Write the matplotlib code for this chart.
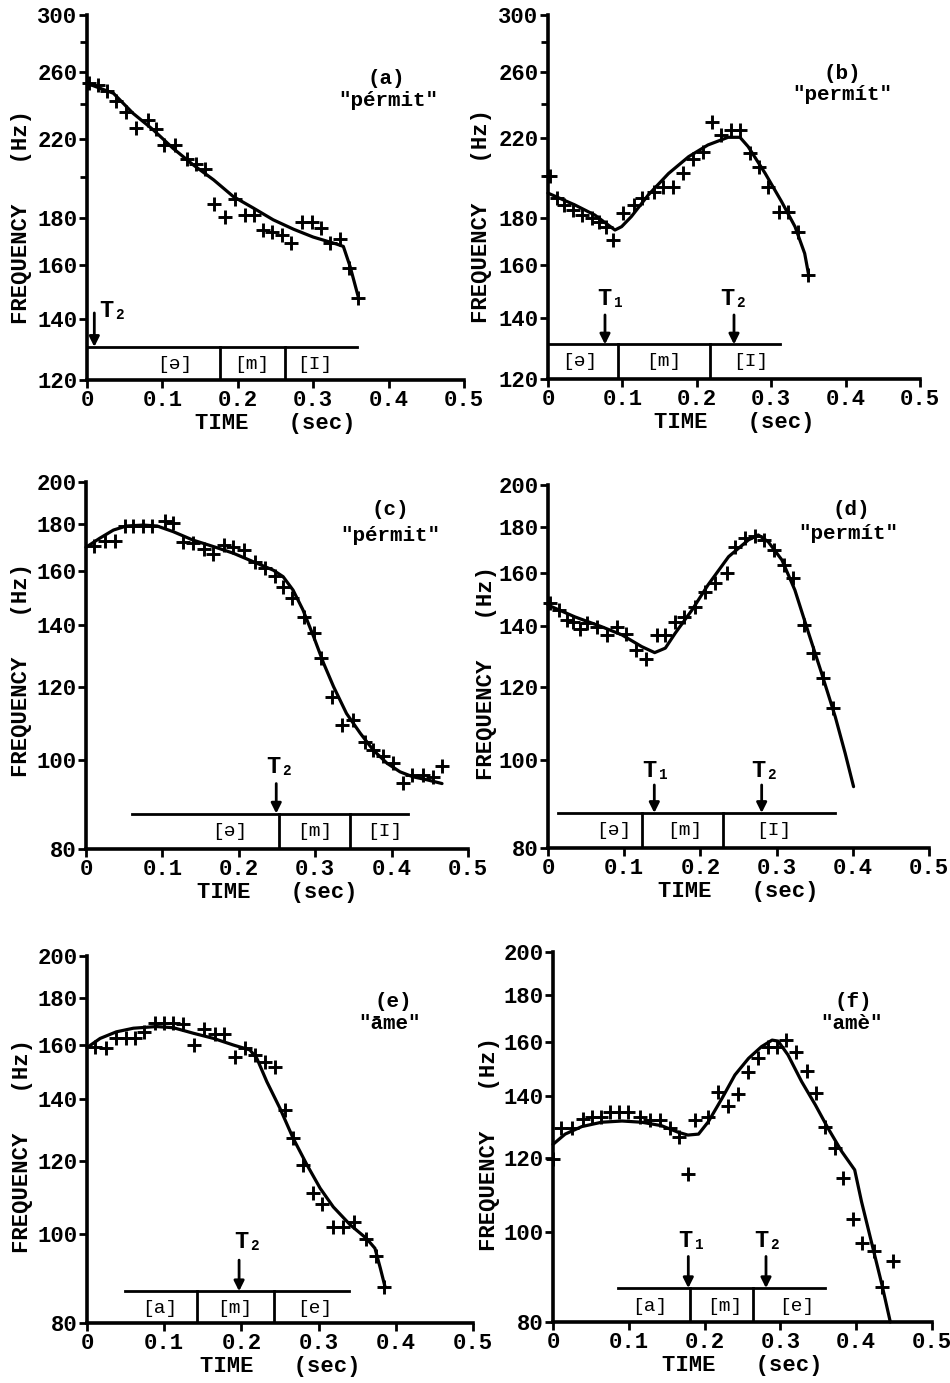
import matplotlib
matplotlib.use("Agg")
import matplotlib.pyplot as plt
from matplotlib.ticker import FixedLocator, NullFormatter, NullLocator, FixedFormatter

plt.rcParams['font.family'] = ['Liberation Mono', 'DejaVu Sans Mono']
plt.rcParams['font.weight'] = 'bold'

# ---------------- data ----------------
# (a) "pérmit"
a_pts_t = [0.003, 0.015, 0.027, 0.039, 0.052, 0.065, 0.081, 0.092, 0.102, 0.117, 0.132, 0.145, 0.157, 0.169, 0.183,
           0.196, 0.210, 0.221, 0.234, 0.246, 0.258, 0.271, 0.285, 0.298, 0.310, 0.322, 0.336, 0.347, 0.360]
a_pts_f = [252.7, 251.7, 248.2, 241.5, 234.9, 226.1, 230.6, 225.2, 216.5, 216.5, 208.8, 206.4, 203.6, 186.6, 180.5,
           188.9, 181.6, 181.6, 174.9, 173.8, 172.7, 169.4, 178.6, 178.6, 175.6, 169.4, 170.9, 158.9, 147.6]
a_fit_t = [0, 0.035, 0.061, 0.088, 0.114, 0.141, 0.168, 0.194, 0.221, 0.247, 0.274, 0.300, 0.331, 0.340, 0.349, 0.360]
a_fit_f = [252.7, 246.5, 234.4, 224.8, 214.7, 205.9, 198.3, 190.2, 184.7, 179.4, 175.2, 171.8, 168.8, 167.8, 159.5, 147.6]

# (b) "permít"
b_pts_t = [0.003, 0.012, 0.022, 0.034, 0.046, 0.059, 0.069, 0.078, 0.088, 0.101, 0.115, 0.126, 0.142, 0.155, 0.168,
           0.182, 0.195, 0.208, 0.220, 0.233, 0.246, 0.258, 0.272, 0.283, 0.296, 0.310, 0.323, 0.336, 0.350]
b_pts_f = [199.9, 189.1, 186.0, 183.6, 181.3, 179.8, 178.3, 176.1, 170.3, 182.1, 186.0, 189.1, 192.3, 194.7, 194.7,
           201.3, 208.6, 212.6, 229.3, 221.8, 224.6, 224.6, 211.8, 204.8, 194.7, 182.9, 182.9, 173.9, 156.0]
b_fit_t = [0, 0.036, 0.063, 0.090, 0.099, 0.112, 0.135, 0.162, 0.189, 0.215, 0.242, 0.258, 0.269, 0.292, 0.314,
           0.332, 0.345, 0.350]
b_fit_f = [191.6, 186.0, 181.3, 174.6, 176.1, 180.6, 190.8, 201.3, 210.0, 216.3, 220.5, 220.5, 215.4, 201.3, 187.5,
           176.1, 164.6, 156.5]

# (c) "pérmit"
c_pts_t = [0.0105, 0.025, 0.038, 0.051, 0.062, 0.074, 0.086, 0.103, 0.114, 0.127, 0.140, 0.154, 0.166, 0.180, 0.193,
           0.207, 0.221, 0.234, 0.247, 0.258, 0.270, 0.285, 0.298, 0.308, 0.322, 0.335, 0.350, 0.365, 0.376, 0.389,
           0.402, 0.415, 0.427, 0.441, 0.454, 0.466]
c_pts_f = [170.4, 172.7, 172.7, 179.2, 179.2, 179.2, 179.2, 181.6, 180.4, 172.3, 171.8, 169.1, 167.1, 170.9, 169.9,
           168.8, 163.7, 161.2, 158.2, 153.8, 149.6, 142.9, 137.1, 128.8, 117.0, 109.0, 110.4, 104.6, 102.4, 100.9,
           99.1, 94.4, 96.2, 96.2, 95.8, 98.4]
c_fit_t = [0, 0.018, 0.036, 0.053, 0.075, 0.093, 0.114, 0.140, 0.167, 0.193, 0.219, 0.245, 0.258, 0.271, 0.284,
           0.298, 0.311, 0.324, 0.341, 0.359, 0.376, 0.394, 0.411, 0.428, 0.446, 0.466]
c_fit_f = [169.9, 173.8, 177.4, 179.2, 179.6, 179.2, 176.7, 173.0, 170.2, 167.4, 163.9, 160.5, 157.9, 152.7, 145.3,
           135.9, 127.2, 120.0, 112.2, 106.8, 102.4, 99.1, 97.0, 95.8, 95.1, 94.2]

# (d) "permít"
d_pts_t = [0.003, 0.014, 0.025, 0.033, 0.042, 0.051, 0.064, 0.078, 0.090, 0.103, 0.116, 0.128, 0.143, 0.153, 0.167,
           0.179, 0.193, 0.206, 0.219, 0.235, 0.245, 0.259, 0.271, 0.284, 0.296, 0.310, 0.322, 0.336, 0.348, 0.361,
           0.374]
d_pts_f = [148.3, 145.9, 142.3, 141.6, 139.0, 141.1, 139.9, 137.0, 139.9, 137.3, 131.9, 128.8, 137.0, 137.0, 141.6,
           143.5, 146.9, 152.8, 156.0, 160.0, 170.9, 174.8, 175.8, 174.1, 169.7, 163.4, 158.0, 140.4, 130.8, 122.8,
           113.8]
d_fit_t = [0, 0.035, 0.070, 0.097, 0.123, 0.140, 0.154, 0.167, 0.189, 0.210, 0.237, 0.263, 0.276, 0.289, 0.307,
           0.324, 0.342, 0.359, 0.377, 0.390, 0.401]
d_fit_f = [147.7, 143.4, 139.9, 137.0, 133.0, 131.0, 132.5, 137.6, 145.9, 155.4, 166.9, 174.1, 176.3, 173.3, 165.5,
           153.4, 137.6, 124.4, 111.4, 101.6, 93.4]

# (e) "āme"
e_pts_t = [0.010, 0.025, 0.038, 0.051, 0.062, 0.074, 0.088, 0.100, 0.112, 0.124, 0.138, 0.151, 0.166, 0.177, 0.192,
           0.205, 0.218, 0.231, 0.244, 0.256, 0.267, 0.280, 0.293, 0.305, 0.319, 0.332, 0.346, 0.361, 0.374, 0.385]
e_pts_f = [159.5, 158.8, 162.8, 162.8, 162.8, 165.5, 169.1, 169.1, 169.1, 168.6, 160.1, 166.7, 164.5, 164.5, 155.5,
           158.8, 156.2, 153.6, 151.7, 136.2, 126.9, 118.7, 110.6, 107.8, 101.7, 101.7, 103.0, 98.6, 94.6, 87.6]
e_fit_t = [0, 0.017, 0.038, 0.060, 0.090, 0.112, 0.138, 0.164, 0.190, 0.211, 0.220, 0.233, 0.250, 0.267, 0.285,
           0.302, 0.319, 0.341, 0.362, 0.373, 0.380, 0.386]
e_fit_f = [159.1, 162.8, 165.5, 167.0, 167.7, 167.2, 164.9, 162.8, 160.1, 158.2, 154.9, 146.1, 136.7, 126.9, 118.7,
           112.0, 106.9, 102.2, 98.8, 96.4, 91.7, 87.6]

# (f) "amè"
f_pts_t = [0.000, 0.011, 0.025, 0.039, 0.051, 0.063, 0.075, 0.087, 0.099, 0.115, 0.128, 0.141, 0.154, 0.166, 0.178,
           0.187, 0.204, 0.218, 0.231, 0.244, 0.257, 0.270, 0.283, 0.295, 0.308, 0.321, 0.335, 0.347, 0.359, 0.372,
           0.383, 0.396, 0.408, 0.423, 0.434, 0.448]
f_pts_f = [119.8, 129.4, 129.4, 132.3, 133.0, 133.0, 134.5, 134.5, 134.5, 132.9, 132.0, 132.0, 129.2, 126.6, 115.3,
           132.0, 133.0, 141.3, 136.7, 140.6, 148.7, 153.7, 158.2, 158.2, 160.8, 156.0, 149.0, 141.0, 129.8, 123.0,
           114.2, 103.3, 97.2, 95.4, 87.3, 93.1]
f_fit_t = [0, 0.016, 0.038, 0.064, 0.091, 0.117, 0.143, 0.165, 0.178, 0.192, 0.205, 0.223, 0.240, 0.258, 0.275,
           0.289, 0.297, 0.310, 0.328, 0.346, 0.363, 0.381, 0.398, 0.407, 0.420, 0.434, 0.445]
f_fit_f = [124.2, 127.4, 129.8, 131.2, 131.6, 131.2, 130.1, 128.0, 127.1, 127.4, 131.4, 139.2, 147.5, 153.7, 158.2,
           160.8, 160.4, 155.0, 145.1, 137.0, 129.2, 122.0, 116.6, 107.8, 97.6, 87.7, 80.0]

# segment bars: level, start, end, boundaries, labels, label positions, label level
a_bar = [130.4, 0.0, 0.358]; a_bounds = [0.176, 0.263]; a_segs = ['[ə]', '[m]', '[I]']; a_seg_t = [0.117, 0.218, 0.302]; a_seg_f = 124.7
b_bar = [130.9, 0.0, 0.312]; b_bounds = [0.0945, 0.218]; b_segs = ['[ə]', '[m]', '[I]']; b_seg_t = [0.043, 0.155, 0.272]; b_seg_f = 125.3
c_bar = [87.4, 0.060, 0.422]; c_bounds = [0.252, 0.345]; c_segs = ['[ə]', '[m]', '[I]']; c_seg_t = [0.188, 0.300, 0.391]; c_seg_f = 83.5
d_bar = [87.4, 0.0135, 0.377]; d_bounds = [0.123, 0.230]; d_segs = ['[ə]', '[m]', '[I]']; d_seg_t = [0.086, 0.180, 0.296]; d_seg_f = 83.7
e_bar = [86.6, 0.049, 0.340]; e_bounds = [0.142, 0.242]; e_segs = ['[a]', '[m]', '[e]']; e_seg_t = [0.0946, 0.192, 0.295]; e_seg_f = 83.0
f_bar = [87.0, 0.086, 0.359]; f_bounds = [0.181, 0.264]; f_segs = ['[a]', '[m]', '[e]']; f_seg_t = [0.128, 0.227, 0.321]; f_seg_f = 83.1

# T arrows: times, arrow top level, labels, label times, label level
a_arrow_t = [0.0097]; a_arrow_top = 142.0; a_tlab = ['T₂']; a_tlab_t = [0.035]; a_tlab_f = 138.8
b_arrow_t = [0.0766, 0.250]; b_arrow_top = 141.0; b_tlab = ['T₁', 'T₂']; b_tlab_t = [0.0856, 0.251]; b_tlab_f = 142.8
c_arrow_t = [0.249]; c_arrow_top = 94.2; c_tlab = ['T₂']; c_tlab_t = [0.255]; c_tlab_f = 95.5
d_arrow_t = [0.1395, 0.2804]; d_arrow_top = 93.8; d_tlab = ['T₁', 'T₂']; d_tlab_t = [0.1426, 0.285]; d_tlab_f = 94.6
e_arrow_t = [0.197]; e_arrow_top = 93.6; e_tlab = ['T₂']; e_tlab_t = [0.209]; e_tlab_f = 95.2
f_arrow_t = [0.1785, 0.281]; f_arrow_top = 94.1; f_tlab = ['T₁', 'T₂']; f_tlab_t = [0.184, 0.284]; f_tlab_f = 95.2

# panel titles
titles = ['(a)', '(b)', '(c)', '(d)', '(e)', '(f)']
words = ['"pérmit"', '"permít"', '"pérmit"', '"permít"', '"āme"', '"amè"']
title_pos = [(0.397, 256), (0.395, 259), (0.398, 186.5), (0.3985, 187.8), (0.397, 178.4), (0.396, 176.8)]
word_pos = [(0.40, 242.3), (0.395, 245.3), (0.398, 175.2), (0.394, 177.0), (0.392, 169.1), (0.394, 167.6)]

x_ticks = [0, 0.1, 0.2, 0.3, 0.4, 0.5]
x_ticklabels = ['0', '0.1', '0.2', '0.3', '0.4', '0.5']
y_ticks_hi = [120, 140, 160, 180, 220, 260, 300]
y_minor_hi = [200, 240, 280]
y_ticks_lo = [80, 100, 120, 140, 160, 180, 200]

# ---------------- layout ----------------
W, H = 950, 1383
rects_px = [  # left, right, top, bottom in pixels
    (87, 464, 15, 380),
    (548, 920, 15, 379),
    (86, 468, 482, 849),
    (548, 929, 485, 848),
    (87, 473, 956, 1323),
    (553, 932, 952, 1322),
]
ylabel_x = [-0.146, -0.151, -0.141, -0.134, -0.14, -0.14]
ylabel_y = [0.447, 0.447, 0.488, 0.482, 0.482, 0.48]

panels = [
    (a_pts_t, a_pts_f, a_fit_t, a_fit_f, a_bar, a_bounds, a_segs, a_seg_t, a_seg_f, a_arrow_t, a_arrow_top, a_tlab, a_tlab_t, a_tlab_f),
    (b_pts_t, b_pts_f, b_fit_t, b_fit_f, b_bar, b_bounds, b_segs, b_seg_t, b_seg_f, b_arrow_t, b_arrow_top, b_tlab, b_tlab_t, b_tlab_f),
    (c_pts_t, c_pts_f, c_fit_t, c_fit_f, c_bar, c_bounds, c_segs, c_seg_t, c_seg_f, c_arrow_t, c_arrow_top, c_tlab, c_tlab_t, c_tlab_f),
    (d_pts_t, d_pts_f, d_fit_t, d_fit_f, d_bar, d_bounds, d_segs, d_seg_t, d_seg_f, d_arrow_t, d_arrow_top, d_tlab, d_tlab_t, d_tlab_f),
    (e_pts_t, e_pts_f, e_fit_t, e_fit_f, e_bar, e_bounds, e_segs, e_seg_t, e_seg_f, e_arrow_t, e_arrow_top, e_tlab, e_tlab_t, e_tlab_f),
    (f_pts_t, f_pts_f, f_fit_t, f_fit_f, f_bar, f_bounds, f_segs, f_seg_t, f_seg_f, f_arrow_t, f_arrow_top, f_tlab, f_tlab_t, f_tlab_f),
]

fig = plt.figure(figsize=(W / 100, H / 100), dpi=100)

for i, p in enumerate(panels):
    (pts_t, pts_f, fit_t, fit_f, bar, bounds, segs, seg_t, seg_f,
     arrow_t, arrow_top, tlab, tlab_t, tlab_f) = p
    l, r, t, b = rects_px[i]
    ax = fig.add_axes([l / W, 1 - b / H, (r - l) / W, (b - t) / H])
    ax.set_yscale('log')
    hi = i < 2
    ax.set_xlim(0, 0.5)
    ax.set_ylim((120, 300) if hi else (80, 200))

    ax.plot(fit_t, fit_f, color='black', lw=2.3, solid_capstyle='round', solid_joinstyle='round', clip_on=False)
    ax.plot(pts_t, pts_f, linestyle='none', marker='+', markersize=10, markeredgewidth=2.1, color='black', clip_on=False)

    # segment bar
    lvl, x0, x1 = bar
    ymin = ax.get_ylim()[0]
    ax.plot([x0, x1], [lvl, lvl], color='black', lw=2.0)
    for bx in bounds:
        ax.plot([bx, bx], [ymin, lvl], color='black', lw=2.0)
    for s, st in zip(segs, seg_t):
        ax.text(st, seg_f, s, ha='center', va='center', fontsize=14, fontweight='normal',
                family=['Liberation Mono', 'DejaVu Sans Mono'])

    # arrows
    for at in arrow_t:
        ax.annotate('', xy=(at, lvl), xytext=(at, arrow_top),
                    arrowprops=dict(arrowstyle='-|>', color='black', lw=2.0, mutation_scale=15,
                                    shrinkA=0, shrinkB=0))
    for lab, lt in zip(tlab, tlab_t):
        ax.text(lt, tlab_f, lab, ha='center', va='bottom', fontsize=17, fontweight='bold')

    ax.text(title_pos[i][0], title_pos[i][1], titles[i], ha='center', va='center', fontsize=15, fontweight='bold')
    ax.text(word_pos[i][0], word_pos[i][1], words[i], ha='center', va='center', fontsize=15, fontweight='bold')

    # axes styling
    for sp in ('top', 'right'):
        ax.spines[sp].set_visible(False)
    for sp in ('left', 'bottom'):
        ax.spines[sp].set_linewidth(2.6)
    ax.xaxis.set_major_locator(FixedLocator(x_ticks))
    ax.xaxis.set_major_formatter(FixedFormatter(x_ticklabels))
    yt = y_ticks_hi if hi else y_ticks_lo
    ax.yaxis.set_major_locator(FixedLocator(yt))
    ax.yaxis.set_major_formatter(FixedFormatter([str(v) for v in yt]))
    if hi:
        ax.yaxis.set_minor_locator(FixedLocator(y_minor_hi))
    else:
        ax.yaxis.set_minor_locator(NullLocator())
    ax.yaxis.set_minor_formatter(NullFormatter())
    ax.xaxis.set_minor_locator(NullLocator())
    ax.tick_params(axis='both', which='major', direction='out', length=6, width=2, labelsize=16, pad=1)
    ax.tick_params(axis='y', which='minor', direction='out', length=5, width=2)

    ax.set_xlabel('TIME   (sec)', fontsize=16, fontweight='bold')
    ax.xaxis.set_label_coords(0.5, -0.09)
    ax.set_ylabel('FREQUENCY   (Hz)', fontsize=16, fontweight='bold')
    ax.yaxis.set_label_coords(ylabel_x[i], ylabel_y[i])

fig.savefig('out.png', dpi=100)
